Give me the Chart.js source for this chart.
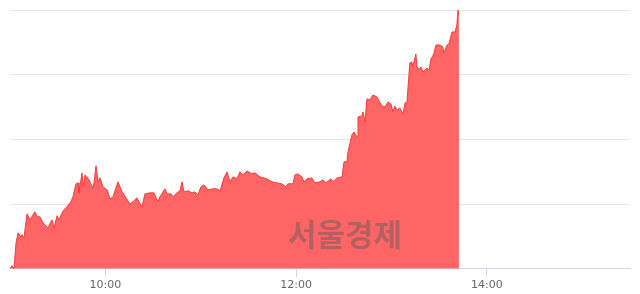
<!DOCTYPE html>
<html><head><meta charset="utf-8">
<script src="https://cdn.jsdelivr.net/npm/chart.js@4.4.0/dist/chart.umd.min.js"></script>
<style>
html,body{margin:0;padding:0;background:#fff;}
#wrap{position:relative;width:640px;height:294px;}
#wm{position:absolute;left:288px;top:213px;font-family:"Noto Sans CJK KR",sans-serif;font-weight:700;font-size:31px;color:rgba(90,90,90,0.45);letter-spacing:0px;pointer-events:none;line-height:40px;}
</style></head>
<body>
<div id="wrap"><canvas id="c" width="640" height="294"></canvas><div id="wm">서울경제</div></div>
<script>
// minutes after 09:00
const minutes = [0,1.3,2.5,3.8,5.1,6.9,7.5,8.8,10.7,12.6,15.7,17.0,18.9,20.7,23.9,26.4,27.7,29.6,30.8,33.4,35.8,38.3,39.6,41.5,42.8,43.4,45.3,46.0,47.2,48.4,49.7,52.2,52.8,54.1,55.4,56.6,58.5,61.1,62.9,64.8,67.9,70.5,73.0,75.4,77.3,79.9,81.1,83.0,84.9,88.1,90.5,93.1,94.3,97.5,98.8,101.3,102.5,105.0,106.9,108.2,109.4,112.0,114.5,116.3,118.2,120.1,122.0,124.6,127.7,130.2,132.1,134.6,136.5,138.4,140.3,142.8,144.6,146.5,149.1,152.2,154.1,157.2,161.6,164.8,168.0,171.0,173.6,174.8,178.0,179.3,181.2,183.6,184.9,186.8,189.9,191.8,195.0,196.9,198.7,201.9,203.2,205.7,208.9,210.1,211.9,212.6,215.1,216.4,218.3,218.9,221.4,222.1,223.3,224.5,226.4,228.3,230.8,234.0,235.9,237.8,239.6,240.9,242.1,243.4,245.3,247.2,248.5,249.7,251.5,252.8,253.4,255.3,256.0,257.2,258.5,259.8,262.3,263.6,264.8,266.6,267.9,270.4,272.3,272.9,274.9,276.1,278.0,279.9,281.1,281.8,282.4];
const values = [0,4.6,0,40.2,55.6,49.4,52.5,47.9,84.9,75.7,88.0,80.3,80.3,71.0,63.3,75.7,63.3,81.9,75.7,89.6,95.8,103.5,111.2,131.3,132.8,117.4,148.3,126.6,145.2,142.1,137.5,125.1,132.8,159.1,134.4,140.5,126.6,122.0,108.1,111.2,134.4,118.9,109.7,100.4,103.5,109.7,103.5,95.8,115.8,117.4,117.4,103.5,111.2,123.6,115.8,115.8,111.2,117.4,120.5,134.4,118.9,120.5,117.4,118.9,114.3,126.6,129.7,122.0,123.6,123.6,120.5,140.5,149.8,134.4,142.1,139.0,149.8,145.2,151.3,146.7,148.3,142.1,139.0,134.4,132.8,131.3,126.6,131.3,131.3,145.2,146.7,142.1,134.4,139.0,140.5,132.8,134.4,137.5,132.8,139.0,134.4,140.5,142.1,165.3,165.3,180.7,207.0,211.6,203.9,234.7,236.3,242.5,227.0,262.5,261.0,268.7,265.6,251.7,250.2,257.9,254.8,242.5,251.7,245.6,248.6,239.4,256.4,257.9,318.1,319.7,312.0,332.0,312.0,308.9,312.0,304.2,310.4,307.3,324.3,332.0,345.9,345.9,342.9,333.6,345.9,347.5,366.0,366.0,376.8,400,392.3];
const tickMinutes = [60,180,300];
const tickLabels = ["10:00","12:00","14:00"];

const pts = minutes.map((m,i)=>({x:m,y:values[i]}));
new Chart(document.getElementById('c'),{
  type:'line',
  data:{datasets:[{data:pts,borderColor:'#f53b3b',borderWidth:1,backgroundColor:'rgba(255,84,84,0.9)',fill:'origin',pointRadius:0,tension:0}]},
  options:{
    responsive:false,animation:false,
    layout:{padding:{left:10,right:10,top:10,bottom:0}},
    plugins:{legend:{display:false},tooltip:{enabled:false}},
    scales:{
      x:{type:'linear',min:0,max:390,
        afterBuildTicks:(ax)=>{ax.ticks=tickMinutes.map(v=>({value:v}));},
        ticks:{autoSkip:false,maxRotation:0,padding:2,color:'#666',font:{family:'"DejaVu Sans", sans-serif',size:11},
          callback:(v)=>{const i=tickMinutes.indexOf(v);return i>=0?tickLabels[i]:'';}},
        grid:{drawOnChartArea:false,drawTicks:true,tickLength:8,tickColor:'#ccd6eb'},
        border:{display:true,color:'#ccd6eb',width:1}},
      y:{min:0,max:400,
        ticks:{display:false,stepSize:100},
        grid:{color:'#e6e6e6',drawTicks:false,lineWidth:1},
        border:{display:false}}
    }
  }
});
</script>
</body></html>
